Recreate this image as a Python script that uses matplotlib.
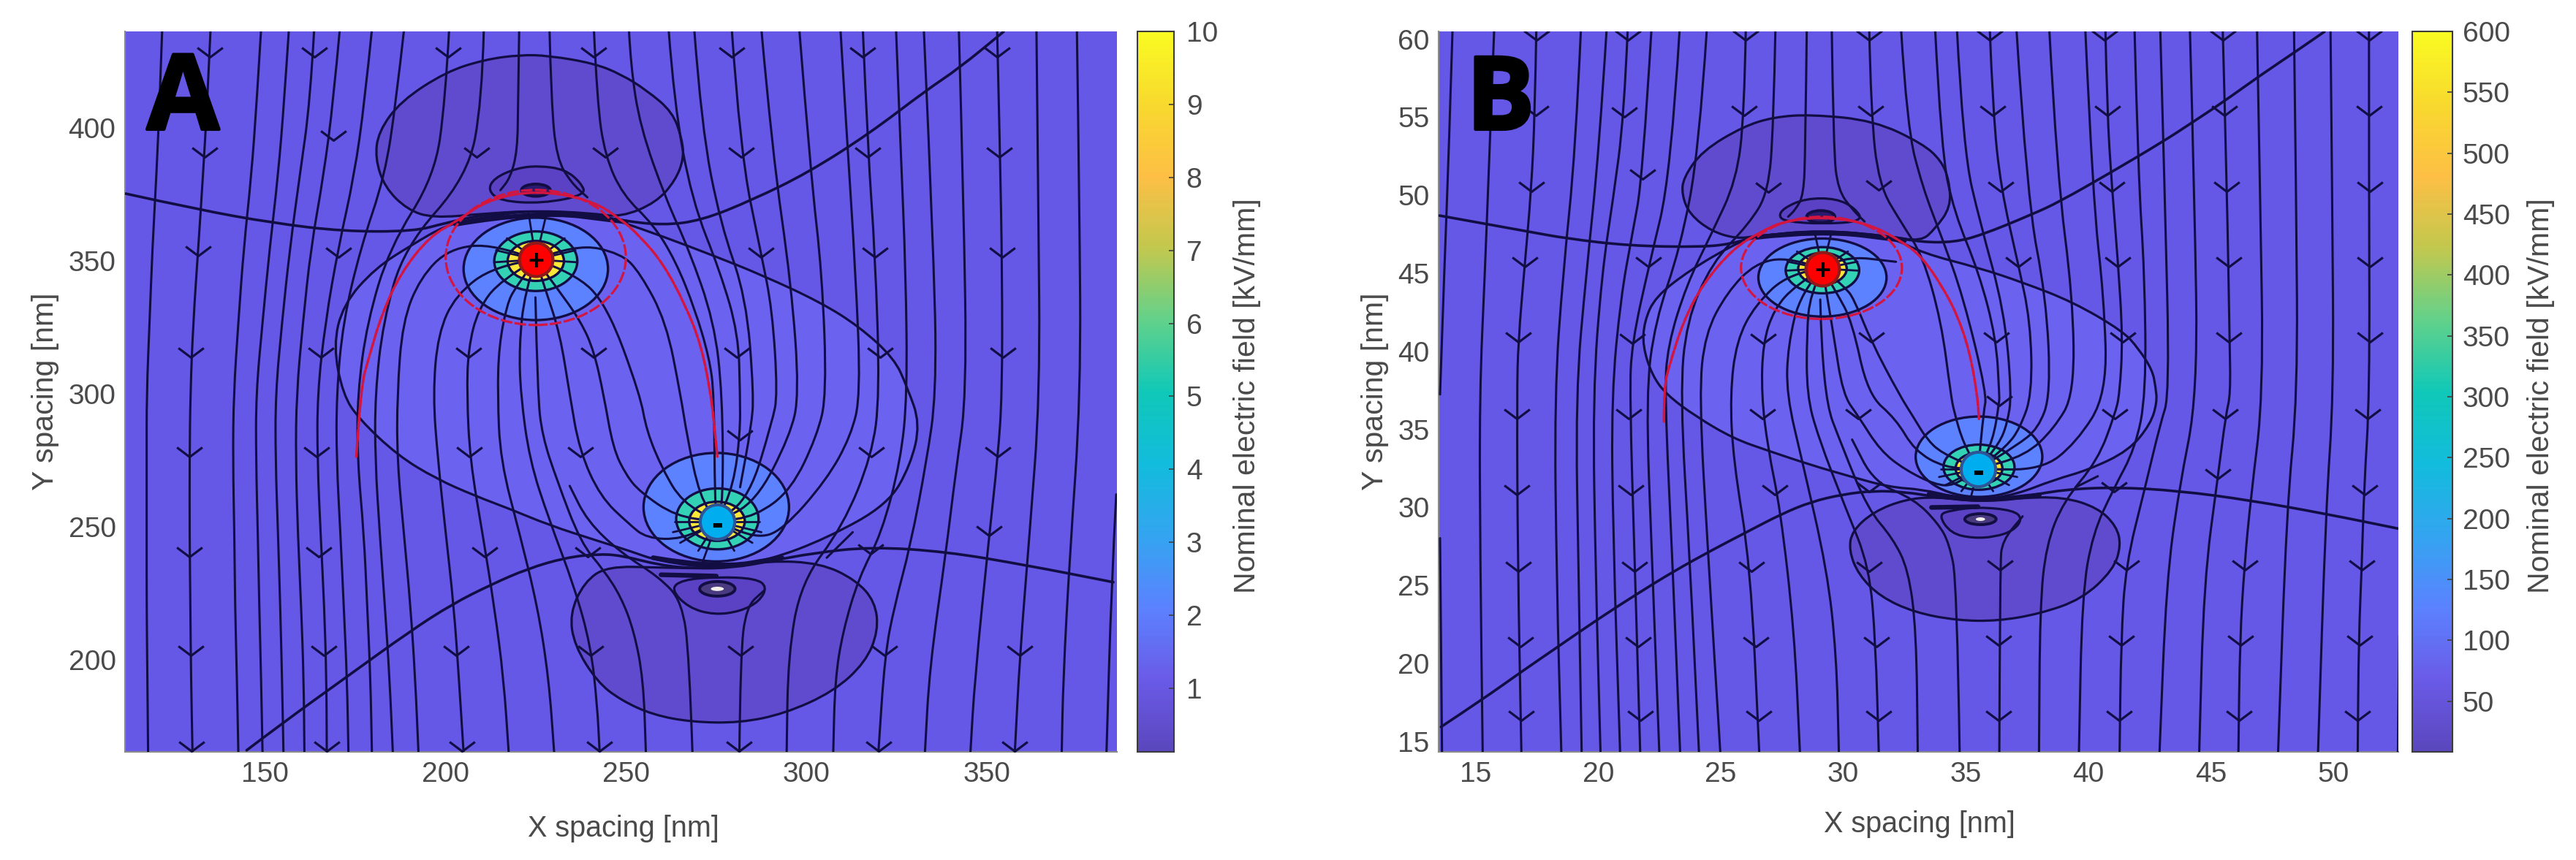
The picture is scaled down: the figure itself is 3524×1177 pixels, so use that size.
import matplotlib
matplotlib.use("Agg")
import matplotlib.pyplot as plt
import matplotlib.patheffects as pe
from matplotlib.cm import ScalarMappable
from matplotlib.colors import LinearSegmentedColormap, Normalize
from matplotlib.patches import Ellipse, PathPatch
from matplotlib.path import Path

plt.rcParams['font.family'] = ['Liberation Sans', 'DejaVu Sans']

# ---- panel A ---- (all in nm)
xlim_a = (111.2, 386.0)
ylim_a = (165.4, 436.3)
xticks_a = [150, 200, 250, 300, 350]
yticks_a = [200, 250, 300, 350, 400]
cbar_range_a = (0.13, 10)
cbar_ticks_a = [1, 2, 3, 4, 5, 6, 7, 8, 9, 10]

plus_a = (225.0, 350.5)
minus_a = (275.3, 252.0)

# x of the far-left streamlines at these heights
levels_a = [437, 410, 382, 355, 327, 300, 275, 247, 220, 193, 165]
left_lines_a = [
    [121.5, 120.8, 119.9, 118.8, 118.0, 117.2, 117.2, 117.2, 117.2, 117.4, 117.6],
    [134.9, 134.0, 132.8, 131.5, 130.1, 129.3, 129.1, 129.1, 129.3, 129.5, 129.9],
    [148.9, 147.7, 146.2, 144.1, 142.6, 141.3, 141.1, 141.5, 141.7, 142.2, 142.6],
    [156.6, 155.3, 153.6, 151.3, 149.3, 147.5, 147.5, 148.0, 148.4, 148.9, 149.3],
    [163.6, 162.5, 159.6, 156.9, 154.7, 152.9, 152.9, 153.6, 154.2, 154.7, 155.1],
    [170.7, 168.9, 166.2, 162.7, 160.5, 158.7, 158.5, 159.1, 160.0, 160.7, 160.9],
    [179.6, 177.6, 174.7, 170.3, 166.7, 164.5, 164.5, 165.4, 166.4, 167.0, 167.1],
    [188.5, 186.3, 183.2, 176.5, 171.6, 169.8, 169.8, 170.9, 171.8, 172.7, 173.1],
    [201.0, 199.9, 197.0, 184.5, 178.3, 175.6, 175.6, 177.4, 178.3, 179.2, 179.6],
    [210.6, 210.1, 206.2, 188.5, 182.7, 180.5, 180.5, 181.8, 183.2, 184.5, 185.4],
]

stream_a = [
    [plus_a, (213.5, 356.5), (201, 354.7), (193, 343.7), (188.1, 327.2), (186.6, 300), (186.6, 275), (188.5, 247), (190.3, 220), (191.6, 193), (192.5, 165)],
    [plus_a, (213.5, 348.2), (202.8, 337.2), (197.9, 322.6), (196.5, 299.7), (197.9, 275), (200.1, 247), (202.3, 220), (203.7, 193), (205, 165)],
    [plus_a, (215.2, 342.8), (209, 331.8), (206.3, 317.1), (205.9, 299.7), (206.8, 275), (210.3, 247), (213.5, 220), (216.1, 193), (217.5, 165)],
    [plus_a, (219.3, 340), (217, 333.6), (214.8, 318), (214.4, 299.7), (215.2, 275), (220.6, 247), (225.5, 220), (228.6, 193), (230.1, 165)],
    [plus_a, (221.9, 338.2), (220.4, 318), (220.8, 299.7), (223.3, 275), (228.6, 253), (235.7, 227.4), (240.2, 205.4), (242, 183.4), (242.7, 165)],
    [(224.9, 336.3), (225.5, 299.7), (226.8, 284.2), (230.8, 267.7), (237.5, 243.9), (243.8, 233.8), (248.6, 223.7), (252.2, 210.9), (254.8, 192.6), (255.5, 165)],
    [plus_a, (227.7, 339.1), (231.7, 322.6), (234.4, 299.7), (237.1, 278.7), (242.9, 261.3), (250.7, 251.2), (255.7, 245.7), (265.5, 245.3), minus_a],
    [plus_a, (230.8, 340), (237.5, 327.2), (241.1, 316.2), (243.8, 299.7), (246.4, 279.6), (250, 269.5), (253.9, 263.1), (263.7, 254), minus_a],
    [plus_a, (235.7, 345.5), (244.7, 333.6), (253.9, 299.7), (255.7, 286), (260.2, 271.4), (265.5, 259.4), minus_a],
    [plus_a, (236.2, 356.5), (248.7, 352.8), (253.9, 345.5), (261.1, 327.2), (265.1, 299.7), (266.9, 284.2), (270.4, 261.3), minus_a],
    [(241.1, 437.1), (242, 409.6), (244.2, 389.5), (249.1, 374.8), (257.5, 363.8), (263.7, 350.1), (269.1, 331.8), (273.1, 313.4), (274.4, 299.7), (274.6, 259.4), minus_a],
    [(250.8, 437.1), (251.3, 423.4), (253.9, 400.5), (261.1, 373), (267.3, 354.7), (274.4, 327.2), (276.7, 299.7), (276.9, 259.4), minus_a],
    [(261.8, 437.1), (263.3, 409.6), (268.2, 373), (276.2, 345.5), (281.1, 322.6), (281.6, 299.7), (281.6, 285.1), (279.8, 265.9), minus_a],
    [(268.9, 437.1), (270.9, 400.5), (276.2, 363.8), (283.3, 336.3), (285.4, 299.7), (284.7, 287.8), (281.6, 264.9)],
    [(279.3, 437.1), (281.6, 391.3), (287.4, 352.8), (290.5, 331.8), (292, 299.7), (290.5, 289.7), (284.2, 261.3), minus_a],
    [(287.5, 437.1), (290.5, 391.3), (295.8, 340.9), (298, 299.7), (295.4, 284.2), (286, 259.4), minus_a],
    [(298, 437.1), (301.2, 382.1), (304.3, 345.5), (305.6, 299.7), (302.9, 284.2), (295.8, 264), (286, 254), minus_a],
    [(309.4, 437.1), (311, 400.5), (313.6, 345.5), (315, 299.7), (312.3, 284.2), (305.6, 267.7), (293.2, 248.5), (286, 245.7), minus_a],
    [(315.6, 437.1), (317, 391.3), (319, 352.8), (320.3, 299.7), (318.1, 276.9), (310.1, 250.3), (298.5, 229.2), (294.9, 201.7), (294.5, 165)],
    [(324.8, 437.1), (326.1, 391.3), (327.5, 345.5), (327.9, 299.7), (326.1, 275), (320.8, 247.5), (314.5, 231), (310.1, 210.9), (307.9, 192.6), (307.4, 165)],
    [(332.5, 437.1), (335.5, 345.5), (335.9, 299.7), (333.3, 275), (328.8, 243), (324.3, 220), (321.7, 201.7), (319.9, 165)],
    [(342.2, 437.1), (343.5, 373), (344.4, 299.7), (341.3, 270.4), (338.6, 240.2), (334.1, 197.2), (332.8, 165)],
    [(352.8, 437.1), (353.6, 391.3), (354.2, 345.5), (354.2, 299.7), (353, 276.4), (350.6, 246.6), (346.6, 192.6), (345.4, 165)],
    [(363.7, 437.1), (364.2, 373), (364.7, 299.7), (361.8, 247.5), (359.1, 201.7), (357.7, 165)],
    [(374.9, 437.1), (375.6, 373), (376, 299.7), (372.9, 238.4), (371.1, 192.6), (370.7, 165)],
    [(385.8, 262.2), (384.5, 229), (383.1, 165)],
    [(220.4, 437.1), (220.1, 409.6), (219.9, 391.3), (217.9, 381.2), (215.2, 376.6)],
    [(228.8, 437.1), (229.3, 409.6), (230.8, 388.5), (234.8, 379.4), (239.3, 373.9)],
    [(268.4, 165), (267.5, 201.7), (265.5, 221.9), (259.3, 231), (248.6, 240.2), (239.3, 252.1), (234.4, 265.4)],
    [(281.4, 165), (281.7, 201.7), (283.3, 220), (288.2, 226)],
    [(312.8, 248), (305.6, 238.4)],
]

# short spokes through the coloured rings
spokes_plus_a = [(217, 358.5), (233, 358.5), (214, 354), (236, 354), (213.5, 349.5), (236.5, 349.5), (223, 368), (228, 368)]
spokes_minus_a = [(265, 244), (285, 244), (270, 241), (280, 241), (271, 236), (263.5, 252), (287, 252), (263, 248), (287.5, 248)]

sep_top_a = [(111.4, 375.3), (131.5, 369.3), (152, 364.3), (171.6, 361.1), (191.2, 361.1), (200.1, 364.3), (210.8, 367.5), (225, 368.9), (240.2, 367.5), (248.7, 365.2), (260.2, 363.4), (270.9, 365.2), (285.1, 373), (300.3, 383.1), (317.2, 397.7), (333.2, 414.2), (342.2, 422.4), (354.6, 436.2)]
sep_low_a = [(144.9, 166), (154.7, 176.1), (172.5, 193.5), (190.3, 210.9), (201.9, 221), (212.6, 228.3), (222.8, 234.3), (233.1, 238.4), (242, 239.8), (248.6, 239.3), (259.3, 235.6), (269.1, 234.3), (279.8, 234.7), (289.6, 237), (302, 240.2), (318.1, 242.5), (338.6, 240.7), (360.9, 235.6), (385, 229.2)]
loop_a = [(209, 366.1), (200.1, 363.4), (191.2, 356.5), (180.5, 347.3), (171.6, 333.6), (168.9, 318), (171.6, 299.7), (176, 290.6), (186.7, 276.9), (197.4, 268.1), (208.1, 261.7), (217.9, 256.7), (228.6, 250.7), (242, 244.8), (250.7, 241.1), (259.3, 237), (275.3, 234.3), (289.6, 237.5), (305.6, 245.7), (322.6, 258.5), (328.8, 273.2), (331.5, 288.8), (327.9, 302.5), (324.3, 313.4), (314.5, 325.4), (303.8, 334.5), (287.8, 344.6), (274.4, 351.9), (260.2, 359.2), (248.6, 364.7), (240.2, 368.4), (225, 369.3)]
lobe_top_a = [(200.1, 421.1), (210.8, 425.7), (220.6, 427.5), (228.6, 427.2), (241.1, 424.3), (248.6, 420.2), (255.7, 414.2), (262.9, 406), (265.5, 395.9), (266, 388.5), (263.7, 380.3), (258.4, 372), (248.6, 366.4), (240.2, 368), (225, 368.9), (210.8, 367.8), (196.5, 366.1), (189.4, 369.3), (183.2, 377.6), (180.5, 388.5), (181.4, 398.6), (187.6, 410.1)]
inner_top_a = [(211.7, 376.6), (213.5, 381.2), (219.7, 384.9), (225.9, 385.8), (233.1, 384.4), (237.5, 379.4), (238.9, 374.8), (226.8, 371.6), (215.2, 372.5)]
lobe_low_a = [(244.7, 235.2), (238.4, 229.2), (234.4, 217.3), (235.7, 205.4), (242, 191.7), (248.6, 184.8), (257.5, 179.3), (268.2, 176.6), (281.6, 176.3), (294, 179.8), (307.4, 188), (316.3, 199), (319.9, 210.9), (319, 221.9), (313.6, 230.1), (303.8, 236.4), (289.6, 237.3), (275.3, 234.3), (259.3, 234.7)]
inner_low_a = [(262.4, 226.5), (265.5, 230.1), (275.3, 231.2), (286, 230.6), (289.1, 227.4), (286.9, 221.9), (281.6, 218.2), (274.4, 216.9), (267.3, 219.6)]
bundles_a = [
    [(202.8, 363.8), (225, 368.9), (250, 364.7)],
    [(257.5, 238.4), (275.3, 234.3), (293.2, 238.4)],
    [(259.7, 232), (275, 231.5)],
]
arch_a = [(175.3, 276.4), (176.5, 302.5), (178.7, 313.4), (182.3, 329.9), (187.6, 345.5), (195.6, 359.2), (202.8, 364.7), (211.7, 373), (225, 376.6), (240.2, 373), (248.6, 365.7), (253.9, 359.2), (260.2, 349.2), (266.4, 333.6), (270.9, 318), (273.5, 299.7), (274.4, 288.8), (275.3, 276.4)]

# (centre x, centre y, width, height)
rings_plus_a = [(225, 347, 40, 38.5), (225, 349.9, 23, 22.4), (225, 350, 15.6, 15)]
rings_minus_a = [(275, 257.4, 40.3, 40.8), (275.3, 253, 22.8, 22.9), (275.2, 252.1, 15.4, 14.7)]
red_circle_a = (225, 351.3, 49.9, 50.8)
blob_top_a = (225, 376.6, 8, 4.6)
blob_low_a = (275.3, 226.7, 9.8, 5.5)
core_low_a = (275.3, 226.7, 3.6, 1.6)

arrow_x_a = [134.6, 163.6, 200.8, 241.1, 133.3, 168.9, 208.6, 244.2, 131.5, 170.3, 129.5, 165.4, 206.3, 241.1,
             279.3, 315.6, 352.8, 282, 317, 353.3, 287.4, 319, 354.2, 280.7, 320.3, 354.4,
             129.1, 164.3, 206.5, 237.3, 129.1, 164.9, 210.8, 239.3, 129.4, 166.2, 203, 240.2, 129.7, 167.1, 204.6, 242.7,
             281.6, 317.9, 353, 350.6, 317.7, 281.7, 321.7, 359.1, 281.4, 319.9, 357.7]
arrow_y_a = [426.6, 426.6, 426.6, 426.6, 389, 395.4, 389, 389, 351.9, 351.4, 313.9, 313.9, 313.9, 313.9,
             426.6, 426.6, 426.6, 389, 389, 389, 351.4, 351.4, 351.4, 313.9, 313.9, 313.9,
             276.4, 276.4, 276.4, 276.4, 238.8, 238.8, 238.8, 238.8, 201.7, 201.7, 201.7, 201.7, 165.6, 165.6, 165.6, 165.6,
             282.8, 276.4, 276.4, 246.6, 239.8, 201.7, 201.7, 201.7, 165.6, 165.6, 165.6]

# ---- panel B ----
xlim_b = (13.48, 52.66)
ylim_b = (14.34, 60.5)
xticks_b = [15, 20, 25, 30, 35, 40, 45, 50]
yticks_b = [15, 20, 25, 30, 35, 40, 45, 50, 55, 60]
cbar_range_b = (8.5, 600)
cbar_ticks_b = [50, 100, 150, 200, 250, 300, 350, 400, 450, 500, 550, 600]

plus_b = (29.15, 45.3)
minus_b = (35.51, 32.47)

stream_b = [
    [(14.05, 60.64), (13.9, 52.84), (13.71, 45.04), (13.54, 37.24)],
    [(13.54, 28.03), (13.62, 14.3)],
    [(15.75, 60.64), (15.56, 52.84), (15.37, 45.04), (15.15, 37.24), (15.18, 26.78), (15.28, 14.3)],
    [(17.47, 60.64), (17.41, 55.18), (17.26, 50.27), (16.99, 45.43), (16.73, 40.59), (16.68, 37.24), (16.71, 26.78), (16.86, 14.3)],
    [(19.29, 60.64), (19.07, 52.84), (18.56, 45.04), (18.21, 37.24), (18.3, 25.22), (18.49, 14.3)],
    [(20.34, 60.64), (20.03, 52.84), (19.51, 45.04), (19.07, 37.24), (19.2, 25.22), (19.32, 14.3)],
    [(21.2, 60.64), (21.05, 55.02), (20.6, 49.72), (20.15, 45.04), (19.77, 37.24), (19.9, 25.22), (20.09, 14.3)],
    [(22.17, 60.64), (21.81, 51.12), (21.37, 47.38), (20.92, 43.48), (20.54, 37.24), (20.6, 28.34), (20.89, 14.3)],
    [(23.32, 60.64), (22.96, 51.28), (22.07, 45.51), (21.37, 40.52), (21.28, 37.24), (21.49, 26.31), (21.71, 14.3)],
    [(24.43, 60.64), (24.11, 52.84), (23.34, 46.6), (22.32, 41.92), (21.94, 37.24), (22.19, 26.78), (22.49, 14.3)],
    [(26.02, 60.64), (25.96, 55.18), (25.64, 50.97), (24.62, 47.54), (23.6, 44.26), (22.83, 40.36), (22.71, 37.24), (23.02, 26.78), (23.34, 14.3)],
    [(27.23, 60.64), (27.15, 54.4), (26.94, 50.19), (26.15, 48.16), (24.62, 45.66), (23.6, 41.92), (23.34, 37.24), (23.73, 26.78), (24.11, 14.3)],
    [plus_b, (27.81, 46.05), (26.41, 45.66), (25.26, 43.79), (24.36, 41.14), (24.11, 37.24), (24.49, 26.78), (24.98, 14.3)],
    [plus_b, (27.81, 45.04), (26.41, 43), (25.64, 40.67), (25.38, 37.24), (25.51, 33), (26.21, 26.31), (26.57, 14.3)],
    [plus_b, (28.06, 44.26), (27.17, 42.7), (26.72, 40.52), (26.66, 37.24), (26.92, 33.8), (27.43, 29.9), (28, 22.1), (28.23, 14.3)],
    [plus_b, (28.26, 43.79), (27.74, 40.36), (27.68, 37.24), (28.32, 33), (29.34, 26), (29.72, 20.54), (29.82, 14.3)],
    [plus_b, (28.64, 43.64), (28.51, 41.14), (28.51, 37.24), (28.96, 34.58), (30.11, 29.9), (31.06, 26.23), (31.32, 21.32), (31.45, 14.3)],
    [(29.06, 43.32), (29.15, 37.24), (29.98, 33.8), (31, 29.9), (32.02, 28.03), (32.66, 26), (32.98, 22.1), (33.04, 14.3)],
    [plus_b, (29.6, 41.14), (29.98, 37.24), (30.62, 35.83), (31.51, 33.64), (32.53, 32.4), (33.75, 31.46), (34.5, 31.38), minus_b],
    [plus_b, (29.72, 43.79), (30.36, 41.92), (31, 37.24), (32.15, 35.67), (32.91, 33.64), (34.13, 32.55), minus_b],
    [plus_b, (30.11, 44.1), (30.49, 43.17), (31.13, 40.67), (32.28, 37.24), (32.91, 35.67), (33.39, 34.42), (34, 33.49), minus_b],
    [(31.06, 60.64), (31.13, 55.34), (31.45, 50.66), (32.4, 48.16), (33.24, 46.13), (34, 41.92), (34.39, 37.24), (34.52, 36.14), (34.9, 34.11), minus_b],
    [(32.36, 60.64), (32.6, 54.4), (33.24, 50.5), (34, 47.4), (34.9, 43.48), (35.86, 37.24), (35.73, 36.14), minus_b],
    [(33.75, 60.64), (34, 52.84), (34.52, 48.94), (35.54, 45.04), (36.24, 40.83), (36.37, 37.24), (36.37, 36.76), (36.11, 34.27), minus_b],
    [(34.64, 60.64), (34.9, 52.84), (35.6, 48.16), (36.56, 42.7), (36.88, 37.24), (36.69, 35.36), (36.37, 34.11), minus_b],
    [(35.98, 60.64), (36.11, 55.34), (36.43, 50.5), (37.13, 45.66), (37.64, 41.92), (37.71, 37.24), (37.2, 35.05), (36.69, 33.96), minus_b],
    [(37.07, 60.64), (37.51, 49.72), (38.28, 43.48), (38.47, 37.24), (37.96, 35.05), (37.07, 33.96), minus_b],
    [(38.41, 60.64), (38.73, 51.28), (39.37, 43.48), (39.43, 37.24), (38.6, 35.05), (37.45, 33.33), minus_b],
    [(39.88, 60.64), (40.19, 49.72), (40.64, 43.48), (40.77, 37.24), (39.49, 34.11), (38.09, 32.4), minus_b],
    [(40.7, 60.64), (40.77, 55.41), (40.96, 50.66), (41.21, 45.82), (41.41, 40.83), (41.28, 37.24), (41.09, 35.98), (40.39, 33.02), (38.98, 30.37), (38.28, 27.56), (38.03, 23.66), (37.99, 14.3)],
    [(41.89, 60.64), (42.04, 51.28), (42.3, 45.04), (42.36, 37.24), (41.92, 33.8), (41.02, 31.15), (40.19, 28.34), (39.75, 24.44), (39.62, 14.3)],
    [(42.94, 60.64), (43.13, 49.72), (43.32, 37.24), (42.94, 35.36), (42.3, 31.15), (41.53, 26.31), (41.34, 21.48), (41.28, 14.3)],
    [(44.15, 60.64), (44.34, 49.72), (44.47, 37.24), (43.7, 31.15), (43.19, 25.22), (42.91, 14.3)],
    [(45.49, 60.64), (45.66, 50.5), (45.77, 40.83), (45.81, 37.24), (45.62, 35.98), (45.3, 32.08), (44.72, 25.22), (44.53, 14.3)],
    [(46.89, 60.64), (47.02, 49.72), (47.15, 37.24), (46.64, 30.68), (46.38, 26.39), (46.19, 21.55), (46.13, 14.3)],
    [(48.4, 60.64), (48.49, 49.72), (48.55, 37.24), (48.1, 29.9), (47.75, 14.3)],
    [(49.89, 60.64), (49.96, 49.72), (50.02, 37.24), (49.7, 29.9), (49.38, 14.3)],
    [(51.46, 60.64), (51.46, 50.66), (51.49, 37.24), (51.26, 31.3), (51.17, 26.39), (51.04, 21.55), (51, 14.3)],
    [(52.7, 21.79), (52.64, 14.3)],
    [(28.51, 60.64), (28.45, 52.84), (28.38, 50.03), (28.06, 49.1), (27.75, 48.63)],
    [(29.53, 60.64), (29.6, 52.84), (29.79, 50.34), (30.36, 49.1), (30.87, 48.32)],
    [(34.75, 14.3), (34.64, 25.22), (34.32, 27.72), (33.88, 28.96), (32.91, 30.52), (31.25, 31.62), (30.36, 34.35)],
    [(36.37, 14.3), (36.4, 26.31), (36.49, 27.87), (37.32, 29.43)],
    [(40.39, 32), (39.49, 31.3)],
    [plus_b, (29.98, 46.13), (32.15, 45.74)],
]

spokes_plus_b = [(28.11, 46.4), (30.19, 46.4), (27.72, 45.75), (30.58, 45.75), (27.65, 45.17), (30.65, 45.17), (28.85, 47.5), (29.5, 47.5)]
spokes_minus_b = [(34.17, 31.43), (36.77, 31.43), (34.82, 31.04), (36.12, 31.04), (35.2, 30.6), (33.98, 32.47), (37.03, 32.47), (33.91, 31.95), (37.1, 31.95)]

sep_top_b = [(13.52, 48.7), (15.43, 48.16), (17.09, 47.69), (18.75, 47.22), (21.3, 46.76), (24.24, 46.68), (25.51, 46.91), (26.41, 47.38), (29.08, 47.77), (31.89, 47.38), (33.17, 47), (34.52, 46.99), (35.66, 47.46), (37.71, 48.78), (38.79, 49.56), (40.9, 51.44), (43.07, 53.46), (44.21, 54.63), (45.49, 55.96), (47.02, 57.68), (48.42, 59.16), (49.64, 60.48)]
sep_low_b = [(13.58, 15.94), (15.3, 17.73), (16.84, 19.45), (18.43, 21.16), (20.02, 22.88), (21.56, 24.44), (23.09, 25.92), (24.62, 27.25), (26.15, 28.5), (27.49, 29.59), (28.7, 30.37), (29.98, 30.84), (31.25, 31.07), (32.53, 30.99), (33.75, 30.68), (35.54, 30.37), (37.07, 30.6), (38.98, 31.15), (41.15, 31.3), (43.7, 31.07), (46.64, 30.45), (49.7, 29.59), (52.64, 28.65)]
loop_b = [(26.41, 47.38), (25.51, 46.83), (23.73, 45.2), (22.32, 43.48), (21.88, 41.92), (21.81, 40.36), (22.19, 38.49), (22.77, 37.24), (23.98, 35.83), (25.51, 34.42), (26.92, 33.64), (28.7, 32.71), (30.23, 32.01), (31.89, 31.3), (33.24, 31.15), (34.52, 30.68), (35.54, 30.45), (37.07, 30.84), (38.6, 31.77), (40, 32.4), (41.66, 33.64), (42.55, 35.36), (42.81, 36.76), (42.75, 37.7), (42.62, 38.8), (42.04, 40.2), (41.41, 41.3), (39.37, 43.17), (37.32, 44.42), (35.54, 45.35), (33.24, 46.29), (31.89, 47.38), (29.08, 47.77)]
lobe_top_b = [(33.24, 53.31), (31.25, 54.79), (28.7, 55.18), (27.17, 55.02), (25.9, 54.4), (24.24, 52.84), (23.47, 51.12), (23.41, 50.03), (23.73, 48.78), (24.62, 47.69), (25.64, 47.22), (26.41, 47.38), (29.08, 47.77), (31.89, 47.38), (33.17, 47.04), (33.75, 47.85), (34.39, 49.25), (34.32, 50.97), (34, 52.22)]
inner_top_b = [(27.36, 48.63), (27.55, 49.17), (28.45, 49.8), (29.72, 49.8), (30.49, 49.17), (30.81, 48.32), (29.08, 48.16), (27.68, 48.32)]
lobe_low_b = [(32.53, 30.52), (31.25, 29.74), (30.36, 28.5), (30.23, 27.25), (30.62, 25.69), (31.51, 24.28), (32.91, 23.27), (34.64, 22.76), (36.3, 22.72), (38.03, 23.19), (39.75, 24.13), (41.02, 26), (41.34, 27.56), (41.15, 28.81), (40.39, 29.98), (38.98, 30.68), (37.07, 30.6), (35.54, 30.37), (33.75, 30.68)]
inner_low_b = [(33.88, 29.51), (34.39, 29.82), (35.54, 30.03), (36.94, 29.82), (37.32, 29.28), (36.94, 28.5), (36.18, 28.11), (35.28, 28.03), (34.39, 28.34)]
bundles_b = [
    [(26.41, 47.3), (29.08, 47.77), (32.5, 47.1)],
    [(33.5, 30.85), (35.54, 30.37), (38, 30.8)],
    [(33.6, 30), (35.5, 30.05)],
]
arch_b = [(22.68, 35.5), (22.68, 37.7), (22.9, 39.11), (23.47, 41.92), (24.24, 44.26), (25.51, 46.6), (26.66, 47.69), (27.55, 48.32), (29.08, 48.63), (31, 48.24), (32.53, 46.91), (33.24, 45.98), (34, 44.26), (34.64, 42.39), (35.15, 40.05), (35.47, 37.24), (35.54, 35.67)]

rings_plus_b = [(29.15, 44.73, 5.23, 5.0), (29.15, 45.2, 3.0, 2.96), (29.15, 45.3, 1.98, 2.03)]
rings_minus_b = [(35.54, 33.25, 5.17, 5.15), (35.54, 32.58, 2.9, 2.89), (35.54, 32.5, 1.91, 2.03)]
red_circle_b = (29.11, 45.35, 6.57, 6.55)
blob_top_b = (29.08, 48.63, 1.15, 0.78)
blob_low_b = (35.6, 29.25, 1.28, 0.7)
core_low_b = (35.6, 29.25, 0.38, 0.23)

arrow_x_b = [17.47, 21.2, 26, 31.06, 17.45, 21.07, 25.96, 31.13, 17.26, 21.81, 26.94, 31.45, 16.99, 22.04, 16.73, 21.4, 26.72, 31.15,
             35.98, 40.67, 45.49, 51.46, 36.11, 40.77, 45.55, 51.46, 36.43, 40.96, 45.66, 51.49, 37.13, 41.21, 45.74, 51.51, 36.24, 41.41, 45.74, 51.51,
             16.68, 21.24, 26.69, 30.62, 16.68, 21.33, 27.2, 31.06, 16.73, 21.49, 26.24, 31.06, 16.81, 21.62, 26.43, 31.36, 16.86, 21.71, 26.56, 31.45,
             36.37, 41.09, 45.59, 51.42, 45.3, 51.29, 41.05, 36.4, 41.56, 46.38, 51.17, 36.34, 41.34, 46.22, 51.07, 36.34, 41.25, 46.15, 51]
arrow_y_b = [59.94, 59.94, 59.94, 59.94, 55.1, 55.02, 55.1, 55.1, 50.27, 51.05, 50.19, 50.34, 45.43, 45.43, 40.59, 40.52, 40.52, 40.59,
             59.94, 59.94, 59.94, 59.94, 55.1, 55.1, 55.1, 55.1, 50.27, 50.27, 50.27, 50.27, 45.43, 45.43, 45.43, 45.43, 40.59, 40.59, 40.59, 40.59,
             35.67, 35.67, 35.67, 35.67, 30.84, 30.84, 30.84, 30.99, 25.92, 25.92, 25.92, 25.92, 21.09, 21.09, 21.09, 21.09, 16.33, 16.33, 16.33, 16.33,
             36.53, 35.67, 35.67, 35.67, 31.85, 30.84, 30.99, 26, 26, 26, 26, 21.17, 21.17, 21.17, 21.17, 16.33, 16.33, 16.33, 16.33]

# colours
BG = '#6558e6'
LOOP = '#6b62f0'
LOBE = '#604bcf'
INNER = '#5b42c4'
BLUE = '#5c82ff'
GREEN = '#34d2b4'
YELLOW = '#fde83a'
LINE = '#120e44'
RED = '#d3163f'
GREY = '#4a4a4a'

parula = LinearSegmentedColormap.from_list('parula_soft', [
    '#5a47bd', '#6a5be8', '#5b82ff', '#33a5f0', '#12bcdc', '#10c8b8',
    '#62d18a', '#c2c84e', '#fdbf45', '#f8d92e', '#f9fb22'])

W, H = 3524, 1177


def rect(left, right, top, bottom):
    return [left / W, 1 - bottom / H, (right - left) / W, (bottom - top) / H]


def curve(pts, closed=False):
    # quadratic segments through the midpoints, so the read points give a smooth line
    if closed:
        start = ((pts[-1][0] + pts[0][0]) / 2, (pts[-1][1] + pts[0][1]) / 2)
        verts, codes = [start], [Path.MOVETO]
        for i, p in enumerate(pts):
            q = pts[(i + 1) % len(pts)]
            verts += [p, ((p[0] + q[0]) / 2, (p[1] + q[1]) / 2)]
            codes += [Path.CURVE3, Path.CURVE3]
        return Path(verts, codes)
    verts, codes = [pts[0]], [Path.MOVETO]
    for p, q in zip(pts[1:-1], pts[2:]):
        verts += [p, ((p[0] + q[0]) / 2, (p[1] + q[1]) / 2)]
        codes += [Path.CURVE3, Path.CURVE3]
    verts.append(pts[-1])
    codes.append(Path.LINETO)
    return Path(verts, codes)


def add_region(ax, pts, face, z, lw=2.3):
    ax.add_patch(PathPatch(curve(pts, closed=True), fc=face, ec=LINE, lw=lw, zorder=z))


def add_line(ax, pts, z=5, lw=2.2, color=LINE, **kw):
    ax.add_patch(PathPatch(curve(pts), fc='none', ec=color, lw=lw, zorder=z, capstyle='round', **kw))


def add_ellipse(ax, spec, face, z, lw=2.3, ec=LINE, **kw):
    cx, cy, w, h = spec
    ax.add_patch(Ellipse((cx, cy), w, h, fc=face, ec=ec, lw=lw, zorder=z, **kw))


chevron = Path([(-1, 0.75), (0, 0), (1, 0.75)], [Path.MOVETO, Path.LINETO, Path.LINETO])


def draw_panel(box, cbox, xlim, ylim, xticks, yticks, stream, sep_top, sep_low, loop, lobe_top, inner_top,
               lobe_low, inner_low, bundles, arch, rings_plus, rings_minus, red_circle, blob_top, blob_low,
               core_low, plus, minus, spokes_plus, spokes_minus, arrow_x, arrow_y, crange, cticks,
               xlab_xy, ylab_x, clab_x, cpad):
    ax = fig.add_axes(rect(*box))
    ax.set_facecolor(BG)
    ax.set_xlim(*xlim)
    ax.set_ylim(*ylim)
    ax.set_xticks(xticks)
    ax.set_yticks(yticks)
    ax.tick_params(length=0, labelsize=28, labelcolor=GREY, pad=9)
    for side in ['top', 'right']:
        ax.spines[side].set_visible(False)
    for side in ['left', 'bottom']:
        ax.spines[side].set_color('#8a8a8a')
        ax.spines[side].set_linewidth(1.5)

    add_region(ax, loop, LOOP, 1)
    add_region(ax, lobe_top, LOBE, 2)
    add_region(ax, lobe_low, LOBE, 2)
    add_region(ax, inner_top, INNER, 3)
    add_region(ax, inner_low, INNER, 3)
    add_ellipse(ax, blob_top, '#2a1a70', 3.2, lw=2.8)
    add_ellipse(ax, blob_low, '#4a3a80', 3.2, lw=2.8)
    add_ellipse(ax, core_low, '#f2f0ea', 3.4, lw=0)

    for rings in (rings_plus, rings_minus):
        for spec, face, z in zip(rings, (BLUE, GREEN, YELLOW), (3.5, 3.6, 3.7)):
            add_ellipse(ax, spec, face, z, lw=2.4)

    for pts in stream:
        add_line(ax, pts)
    for end in spokes_plus:
        add_line(ax, [plus, end], lw=2.0)
    for end in spokes_minus:
        add_line(ax, [minus, end], lw=2.0)
    add_line(ax, sep_top, lw=2.6)
    add_line(ax, sep_low, lw=2.6)
    for pts in bundles:
        add_line(ax, pts, lw=4.6, z=5.2)

    add_ellipse(ax, red_circle, 'none', 6, lw=2.3, ec=RED, ls=(0, (5, 1)))
    add_line(ax, arch, z=6, lw=2.5, color=RED, ls=(0, (5, 0.8)))

    ax.plot(arrow_x, arrow_y, ls='none', marker=chevron, ms=25, mfc='none', mec=LINE, mew=2.3, zorder=5.5)

    ax.plot(*plus, 'o', ms=33, mfc='#ff0000', mec='#8e1a1a', mew=3.0, zorder=7)
    ax.plot(*minus, 'o', ms=34, mfc='#00aeef', mec='#2f5597', mew=3.0, zorder=7)
    ax.text(plus[0], plus[1], '+', fontsize=27, fontweight='bold', color='black', ha='center', va='center_baseline', zorder=8)
    ax.text(minus[0], minus[1], '-', fontsize=34, fontweight='bold', color='black', ha='center', va='center_baseline', zorder=8)

    ax.set_xlabel('X spacing [nm]', fontsize=28.5, color=GREY, va='center')
    ax.set_ylabel('Y spacing [nm]', fontsize=29.5, color=GREY, va='center')
    ax.xaxis.set_label_coords(*xlab_xy)
    ax.yaxis.set_label_coords(ylab_x, 0.5)

    cax = fig.add_axes(rect(*cbox))
    cb = fig.colorbar(ScalarMappable(Normalize(*crange), parula), cax=cax)
    cb.set_ticks(cticks)
    cb.ax.tick_params(direction='in', length=5, width=1.2, color='#404040', labelsize=28, labelcolor=GREY, pad=cpad)
    cb.outline.set_edgecolor('#3c3c3c')
    cb.outline.set_linewidth(1.5)
    fig.text(clab_x / W, 1 - 542 / H, 'Nominal electric field [kV/mm]', rotation=90, fontsize=29.5,
             color=GREY, ha='center', va='center')
    return ax


fig = plt.figure(figsize=(W / 100, H / 100), dpi=100, facecolor='white')

levels_stream_a = [list(zip(xs, levels_a)) for xs in left_lines_a]

draw_panel((171, 1528, 43, 1029), (1556, 1606, 43, 1029), xlim_a, ylim_a, xticks_a, yticks_a,
           levels_stream_a + stream_a, sep_top_a, sep_low_a, loop_a, lobe_top_a, inner_top_a,
           lobe_low_a, inner_low_a, bundles_a, arch_a, rings_plus_a, rings_minus_a, red_circle_a,
           blob_top_a, blob_low_a, core_low_a, plus_a, minus_a, spokes_plus_a, spokes_minus_a, arrow_x_a, arrow_y_a,
           cbar_range_a, cbar_ticks_a, (0.5026, -0.106), -0.080, 1706, 12)

draw_panel((1968, 3281, 43, 1029), (3300, 3355, 43, 1029), xlim_b, ylim_b, xticks_b, yticks_b,
           stream_b, sep_top_b, sep_low_b, loop_b, lobe_top_b, inner_top_b,
           lobe_low_b, inner_low_b, bundles_b, arch_b, rings_plus_b, rings_minus_b, red_circle_b,
           blob_top_b, blob_low_b, core_low_b, plus_b, minus_b, spokes_plus_b, spokes_minus_b, arrow_x_b, arrow_y_b,
           cbar_range_b, cbar_ticks_b, (0.501, -0.100), -0.066, 3476, 10)

heavy = [pe.withStroke(linewidth=3, foreground='black')]
fig.text(201 / W, 1 - 177 / H, 'A', family='Open Sans', fontweight='bold', fontsize=103, color='black',
         ha='left', va='baseline', zorder=20, path_effects=heavy)
fig.text(2006 / W, 1 - 177 / H, 'B', family='Open Sans', fontweight='bold', fontsize=100, color='black',
         ha='left', va='baseline', zorder=20, path_effects=heavy)

fig.savefig('out.png', dpi=100)
